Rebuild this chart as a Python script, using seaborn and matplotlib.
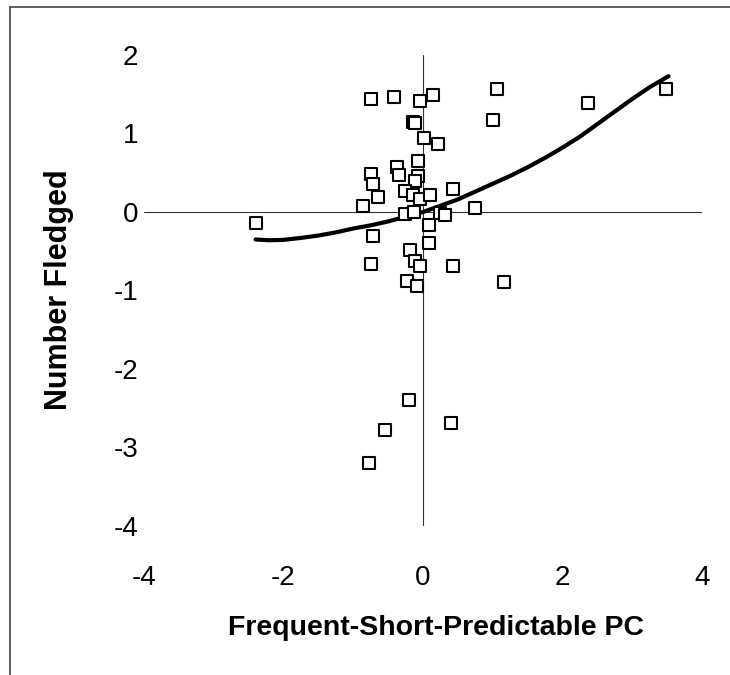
import matplotlib
matplotlib.use("Agg")
import matplotlib.pyplot as plt
from matplotlib.lines import Line2D
import seaborn as sns
import pandas as pd

# Scatter data: Frequent-Short-Predictable PC vs Number Fledged
pc_x = [-2.40, -0.75, -0.41, -0.04, 0.15, 1.06, 3.49, 2.36, 1.00, -0.14,
        -0.12, 0.02, 0.21, -0.07, -0.37, -0.34, -0.75, -0.72, -0.07, -0.12,
        -0.64, -0.86, -0.26, -0.15, -0.04, 0.10, 0.43, 0.75, -0.26, -0.13,
        0.25, 0.31, 0.08, -0.72, 0.09, -0.18, -0.12, -0.05, -0.75, 0.43,
        -0.23, -0.09, 1.16, -0.20, -0.54, -0.78, 0.40]
fledged_y = [-0.14, 1.44, 1.47, 1.42, 1.49, 1.57, 1.57, 1.39, 1.17, 1.15,
             1.14, 0.94, 0.87, 0.65, 0.57, 0.47, 0.49, 0.36, 0.46, 0.39,
             0.19, 0.08, 0.27, 0.22, 0.17, 0.22, 0.29, 0.05, -0.02, 0.00,
             -0.01, -0.04, -0.16, -0.31, -0.39, -0.49, -0.63, -0.69, -0.66, -0.69,
             -0.88, -0.94, -0.89, -2.40, -2.78, -3.20, -2.69]

# Fitted curve
curve_x = [-2.40, -2.20, -2.00, -1.75, -1.50, -1.25, -1.00, -0.75, -0.50, -0.25,
           0.00, 0.25, 0.50, 0.75, 1.00, 1.25, 1.50, 1.75, 2.00, 2.25,
           2.50, 2.75, 3.00, 3.25, 3.52]
curve_y = [-0.35, -0.36, -0.355, -0.33, -0.30, -0.26, -0.21, -0.17, -0.12, -0.06,
           0.00, 0.08, 0.16, 0.26, 0.36, 0.46, 0.57, 0.69, 0.82, 0.96,
           1.12, 1.28, 1.44, 1.59, 1.73]

x_ticks = [-4, -2, 0, 2, 4]
y_ticks = [-4, -3, -2, -1, 0, 1, 2]

sns.set_theme(style="white")
plt.rcParams['font.family'] = ['Liberation Sans', 'DejaVu Sans']
plt.rcParams['text.color'] = 'black'

W, H = 730, 675
fig = plt.figure(figsize=(W / 100, H / 100), dpi=100)
left, right = 144 / W, 702 / W
top_px, bot_px = 55, 526
ax = fig.add_axes([left, 1 - bot_px / H, right - left, (bot_px - top_px) / H])

pts = pd.DataFrame({"x": pc_x, "y": fledged_y})
crv = pd.DataFrame({"x": curve_x, "y": curve_y})

# axis lines crossing at zero
ax.plot([-4, 4], [0, 0], color="#333333", lw=0.8, zorder=1)
ax.plot([0, 0], [-4, 2], color="#333333", lw=0.8, zorder=1)

sns.lineplot(data=crv, x="x", y="y", ax=ax, color="black", lw=3.0, zorder=2)
sns.scatterplot(data=pts, x="x", y="y", ax=ax, marker="s", s=64,
                facecolor="white", edgecolor="black", linewidth=1.5, zorder=3)

ax.set_xlim(-4, 4)
ax.set_ylim(-4, 2)
ax.set_xticks(x_ticks)
ax.set_yticks(y_ticks)
ax.set_xticklabels([str(t) for t in x_ticks])
ax.set_yticklabels([str(t) for t in y_ticks])
ax.tick_params(axis="both", length=0, labelsize=20, colors="black")
ax.tick_params(axis="x", pad=28)
ax.tick_params(axis="y", pad=4)
for s in ax.spines.values():
    s.set_visible(False)
ax.set_xlabel("")
ax.set_ylabel("")
ax.grid(False)

fig.text(436 / W, 1 - 628 / H, "Frequent-Short-Predictable PC", ha="center",
         va="center", fontsize=20.5, fontweight="bold", color="black")
fig.text(59 / W, 1 - 290 / H, "Number Fledged", ha="center", va="center",
         rotation=90, fontsize=22, fontweight="bold", color="black")

# outer frame (top and left edges visible)
fig.add_artist(Line2D([10 / W, 1.0], [1 - 7 / H, 1 - 7 / H], color="#444444", lw=1.2,
                      transform=fig.transFigure))
fig.add_artist(Line2D([10 / W, 10 / W], [0, 1 - 7 / H], color="#444444", lw=1.2,
                      transform=fig.transFigure))

fig.savefig("out.png", dpi=100, facecolor="white")
